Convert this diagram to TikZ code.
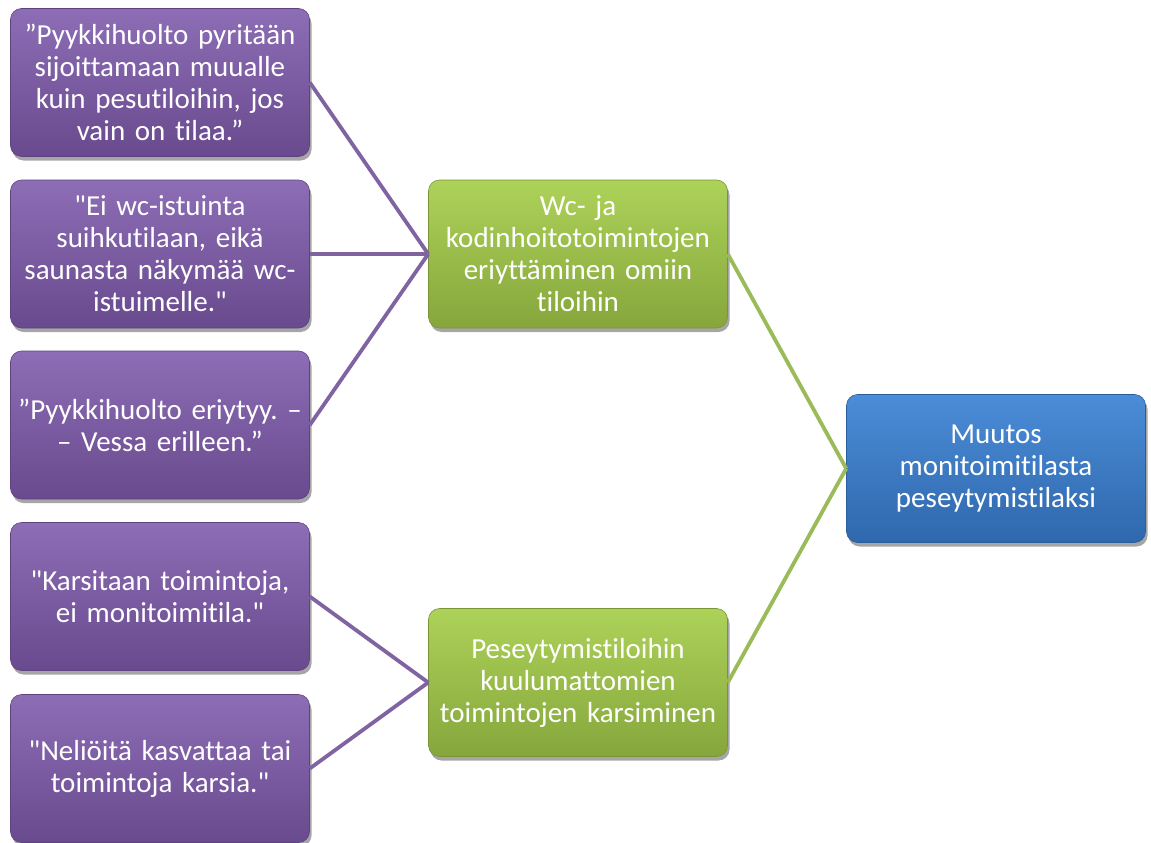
\documentclass[tikz,border=0pt]{standalone}
\usepackage{fontspec}
\setmainfont{Carlito}[Ligatures={TeXOff,CommonOff}]
\usetikzlibrary{shadows}
\frenchspacing
\definecolor{purpTop}{HTML}{8D6DB5}
\definecolor{purpBot}{HTML}{694A8E}
\definecolor{greenTop}{HTML}{ADD259}
\definecolor{greenBot}{HTML}{86A63C}
\definecolor{blueTop}{HTML}{4B8CD8}
\definecolor{blueBot}{HTML}{2F68AC}
\definecolor{purpLine}{HTML}{8064A2}
\definecolor{greenLine}{HTML}{9BBB59}
\tikzset{
  box/.style={rounded corners=11pt, minimum width=299pt, minimum height=148pt,
    text width=293pt, align=center, text=white, inner sep=0pt,
    font=\fontsize{29}{32}\selectfont\frenchspacing,
    drop shadow={shadow xshift=2pt, shadow yshift=-4pt, opacity=0.35, fill=black}},
  purpbox/.style={box, top color=purpTop, bottom color=purpBot, draw=purpBot!90!black, line width=0.6pt},
  greenbox/.style={box, top color=greenTop, bottom color=greenBot, draw=greenBot!90!black, line width=0.6pt},
  bluebox/.style={box, top color=blueTop, bottom color=blueBot, draw=blueBot!90!black, line width=0.6pt},
  plink/.style={draw=purpLine, line width=3.8pt},
  glink/.style={draw=greenLine, line width=3.8pt}
}
\begin{document}
\begin{tikzpicture}[x=1pt,y=-1pt]
\useasboundingbox (0,0) rectangle (1151,843);
\node[purpbox] (p1) at (160,82.5) {”Pyykkihuolto pyritään\\sijoittamaan muualle\\kuin pesutiloihin, jos\\vain on tilaa.”};
\node[purpbox] (p2) at (160,254) {"Ei wc-istuinta\\suihkutilaan, eikä\\saunasta näkymää wc-\\istuimelle."};
\node[purpbox] (p3) at (160,425) {”Pyykkihuolto eriytyy. –\\– Vessa erilleen.”};
\node[purpbox] (p4) at (160,596.5) {"Karsitaan toimintoja,\\ei monitoimitila."};
\node[purpbox] (p5) at (160,768.5) {"Neliöitä kasvattaa tai\\toimintoja karsia."};
\node[greenbox] (g1) at (578,254) {Wc- ja\\kodinhoitotoimintojen\\eriyttäminen omiin\\tiloihin};
\node[greenbox] (g2) at (578,682.5) {Peseytymistiloihin\\kuulumattomien\\toimintojen karsiminen};
\node[bluebox] (b) at (996,468.5) {Muutos\\monitoimitilasta\\peseytymistilaksi};
\draw[plink] (p1.east) -- (g1.west);
\draw[plink] (p2.east) -- (g1.west);
\draw[plink] (p3.east) -- (g1.west);
\draw[plink] (p4.east) -- (g2.west);
\draw[plink] (p5.east) -- (g2.west);
\draw[glink] (g1.east) -- (b.west);
\draw[glink] (g2.east) -- (b.west);
\end{tikzpicture}
\end{document}
